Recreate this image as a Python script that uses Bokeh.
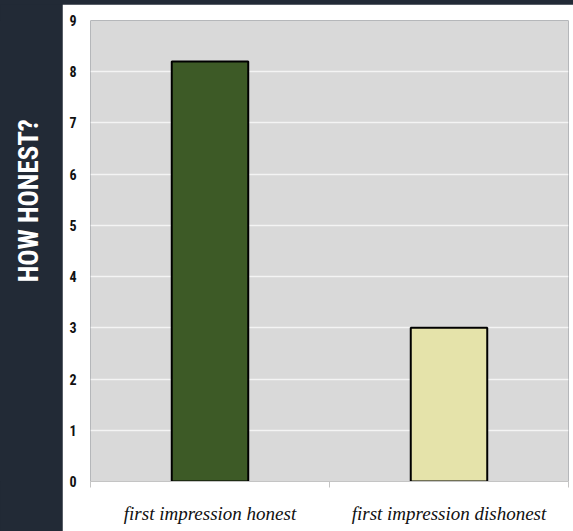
import math

from bokeh.core.properties import value
from bokeh.embed import file_html
from bokeh.layouts import column, row
from bokeh.models import FixedTicker, Range1d
from bokeh.plotting import figure
from bokeh.resources import INLINE

# --- data ---------------------------------------------------------------
categories = ["first impression honest", "first impression dishonest"]
honesty = [8.2, 3.0]
y_ticks = [0, 1, 2, 3, 4, 5, 6, 7, 8, 9]
y_title = "HOW HONEST?"

# --- styles -------------------------------------------------------------
bar_colors = ["#3d5a26", "#e5e3aa"]
navy = "#222a36"
narrow_font = "Roboto Condensed, Liberation Sans Narrow, sans-serif"

W, H = 573, 531
STRIP_W, STRIP_H = 62, 4


def blank(width, height):
    f = figure(width=width, height=height, output_backend="svg", toolbar_location=None,
               x_range=Range1d(0, width), y_range=Range1d(0, height),
               min_border=0, background_fill_color=navy, border_fill_color=navy,
               outline_line_color=None)
    f.axis.visible = False
    f.grid.visible = False
    return f


# thin dark band across the top
top = blank(W, STRIP_H)

# dark side panel with the vertical axis title
side = blank(STRIP_W, H - STRIP_H)
side.text(x=[28], y=[(H - STRIP_H) - 206], text=[y_title], angle=math.pi / 2,
          text_align="center", text_baseline="middle", text_color="white",
          text_font=value(narrow_font), text_font_style="bold", text_font_size="27px")

# main bar chart
n = len(categories)
xs = [i + 0.5 for i in range(n)]

p = figure(width=W - STRIP_W, height=H - STRIP_H, output_backend="svg", toolbar_location=None,
           x_range=Range1d(0, n), y_range=Range1d(0, y_ticks[-1]),
           min_border_left=28, min_border_right=5, min_border_top=16, min_border_bottom=50,
           background_fill_color="#d9d9d9", border_fill_color="white", outline_line_color=None)

p.vbar(x=xs, top=honesty, width=0.32, fill_color=bar_colors,
       line_color="black", line_width=2)

p.xgrid.visible = False
p.ygrid.grid_line_color = "#f4f4f4"
p.ygrid.grid_line_width = 1.5

# y axis: bold narrow numerals, no line or ticks
p.yaxis.ticker = FixedTicker(ticks=y_ticks, minor_ticks=[])
p.yaxis.axis_line_color = None
p.yaxis.major_tick_line_color = None
p.yaxis.minor_tick_line_color = None
p.yaxis.major_tick_out = 0
p.yaxis.major_label_standoff = 14
p.yaxis.major_label_text_font = narrow_font
p.yaxis.major_label_text_font_style = "bold"
p.yaxis.major_label_text_font_size = "14px"
p.yaxis.major_label_text_color = "#111111"

# x axis: labels under each bar, small ticks at the category edges
p.xaxis.ticker = FixedTicker(ticks=xs, minor_ticks=list(range(n + 1)))
p.xaxis.major_label_overrides = {x: c for x, c in zip(xs, categories)}
p.xaxis.axis_line_color = "#c4c4c4"
p.xaxis.major_tick_line_color = None
p.xaxis.major_tick_out = 0
p.xaxis.minor_tick_line_color = "#c4c4c4"
p.xaxis.minor_tick_out = 6
p.xaxis.minor_tick_in = 0
p.xaxis.major_label_standoff = 15
p.xaxis.major_label_text_font = "Liberation Serif"
p.xaxis.major_label_text_font_style = "italic"
p.xaxis.major_label_text_font_size = "19px"
p.xaxis.major_label_text_color = "#111111"

body = row(side, p, styles={"background-color": navy})
layout = column(top, body, styles={"background-color": navy})

open("out.html", "w").write(file_html(layout, INLINE))
